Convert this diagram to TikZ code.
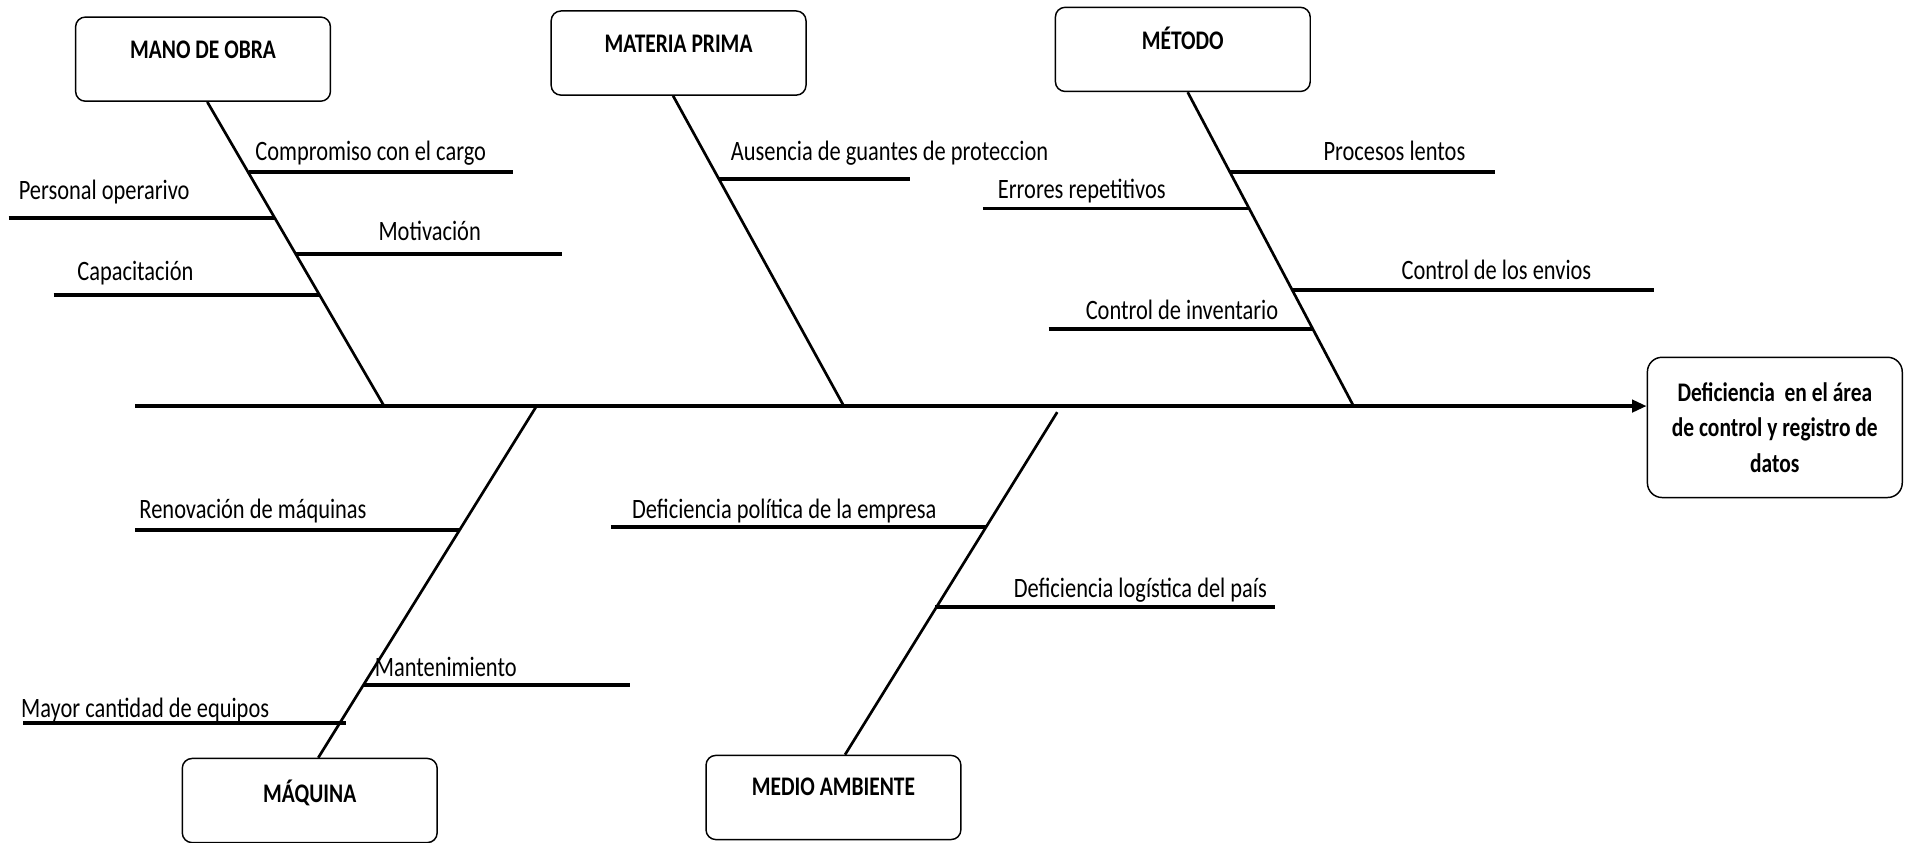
\documentclass[tikz,border=0pt]{standalone}
\usepackage{fontspec}
\setmainfont{Carlito}[FakeStretch=0.8]
\usetikzlibrary{arrows.meta}
\begin{document}
\begin{tikzpicture}[x=0.5pt,y=-0.5pt,
  catbox/.style={draw, rounded corners=4pt, line width=0.6pt, minimum width=104.5pt,
    minimum height=34.5pt, inner sep=0pt, font=\bfseries\fontsize{11}{13}\selectfont},
  effectbox/.style={draw, rounded corners=6pt, line width=0.6pt, minimum width=104.5pt,
    minimum height=57.5pt, inner sep=0pt, align=center,
    font=\bfseries\fontsize{11}{14.5}\selectfont},
  cause/.style={anchor=base west, inner sep=0pt, font=\fontsize{11.5}{13}\selectfont},
  bone/.style={line width=1.1pt},
  twig/.style={line width=1.6pt},
  mainline/.style={line width=1.5pt, -{Triangle[length=6pt,width=5pt]}}]
\useasboundingbox (0,0) rectangle (1568,691);

% category and effect boxes
\node[catbox] (mano) at (166.5,48.5) {\raisebox{7.5pt}{MANO DE OBRA}};
\node[catbox] (materia) at (556.5,43.5) {\raisebox{7.5pt}{MATERIA PRIMA}};
\node[catbox] (metodo) at (970,40.5) {\raisebox{9.5pt}{MÉTODO}};
\node[catbox] (maquina) at (254,656.5) {\raisebox{7.5pt}{MÁQUINA}};
\node[catbox] (medio) at (683.5,654) {\raisebox{9pt}{MEDIO AMBIENTE}};
\node[effectbox] (effect) at (1455.5,350.5) {Deficiencia \ en el área\\de control y registro de\\datos};

% main line
\coordinate (tail) at (111,333);
\draw[mainline] (tail) -- (tail -| effect.west);

% joints on the main line
\coordinate (jMano) at (315,333);
\coordinate (jMat) at (692,333);
\coordinate (jMet) at (1110,333);
\coordinate (jMaq) at (440,333);
\coordinate (jMed) at (867,338);

% category bones
\draw[bone] ([xshift=1.75pt]mano.south) -- (jMano);
\draw[bone] ([xshift=-2.25pt]materia.south) -- (jMat);
\draw[bone] ([xshift=2pt]metodo.south) -- (jMet);
\draw[bone] ([xshift=3.5pt]maquina.north) -- (jMaq);
\draw[bone] ([xshift=4.75pt]medio.north) -- (jMed);

% MANO DE OBRA causes
\coordinate (a1) at (204,141); \coordinate (a2) at (421,141);
\draw[twig] (a1) -- (a2);
\node[cause] (tA) at (209,132) {Compromiso con el cargo};
\coordinate (b1) at (7,179); \coordinate (b2) at (225,179);
\draw[twig] (b1) -- (b2);
\node[cause] (tB) at (15,164) {Personal operarivo};
\coordinate (c1) at (243,208); \coordinate (c2) at (461,208);
\draw[twig] (c1) -- (c2);
\node[cause] (tC) at (310,197) {Motivación};
\coordinate (d1) at (44,242); \coordinate (d2) at (262,242);
\draw[twig] (d1) -- (d2);
\node[cause] (tD) at (63,230) {Capacitación};

% MATERIA PRIMA causes
\coordinate (e1) at (590,147); \coordinate (e2) at (746,147);
\draw[twig] (e1) -- (e2);
\node[cause] (tE) at (599,132) {Ausencia de guantes de proteccion};

% METODO causes
\coordinate (f1) at (1009,141); \coordinate (f2) at (1226,141);
\draw[twig] (f1) -- (f2);
\node[cause] (tF) at (1085,132) {Procesos lentos};
\coordinate (g1) at (806,171); \coordinate (g2) at (1025,171);
\draw[twig] (g1) -- (g2);
\node[cause] (tG) at (818,163) {Errores repetitivos};
\coordinate (h1) at (1060,238); \coordinate (h2) at (1356,238);
\draw[twig] (h1) -- (h2);
\node[cause] (tH) at (1149,229) {Control de los envios};
\coordinate (i1) at (860,270); \coordinate (i2) at (1077,270);
\draw[twig] (i1) -- (i2);
\node[cause] (tI) at (890,262) {Control de inventario};

% MAQUINA causes
\coordinate (k1) at (111,435); \coordinate (k2) at (377,435);
\draw[twig] (k1) -- (k2);
\node[cause] (tK) at (114,425) {Renovación de máquinas};
\coordinate (l1) at (298,562); \coordinate (l2) at (517,562);
\draw[twig] (l1) -- (l2);
\node[cause] (tL) at (307,555) {Mantenimiento};
\coordinate (m1) at (19,593); \coordinate (m2) at (284,593);
\draw[twig] (m1) -- (m2);
\node[cause] (tM) at (17,588) {Mayor cantidad de equipos};

% MEDIO AMBIENTE causes
\coordinate (n1) at (501,432); \coordinate (n2) at (809,432);
\draw[twig] (n1) -- (n2);
\node[cause] (tN) at (518,425) {Deficiencia política de la empresa};
\coordinate (o1) at (767,498); \coordinate (o2) at (1046,498);
\draw[twig] (o1) -- (o2);
\node[cause] (tO) at (831,490) {Deficiencia logística del país};
\end{tikzpicture}
\end{document}
